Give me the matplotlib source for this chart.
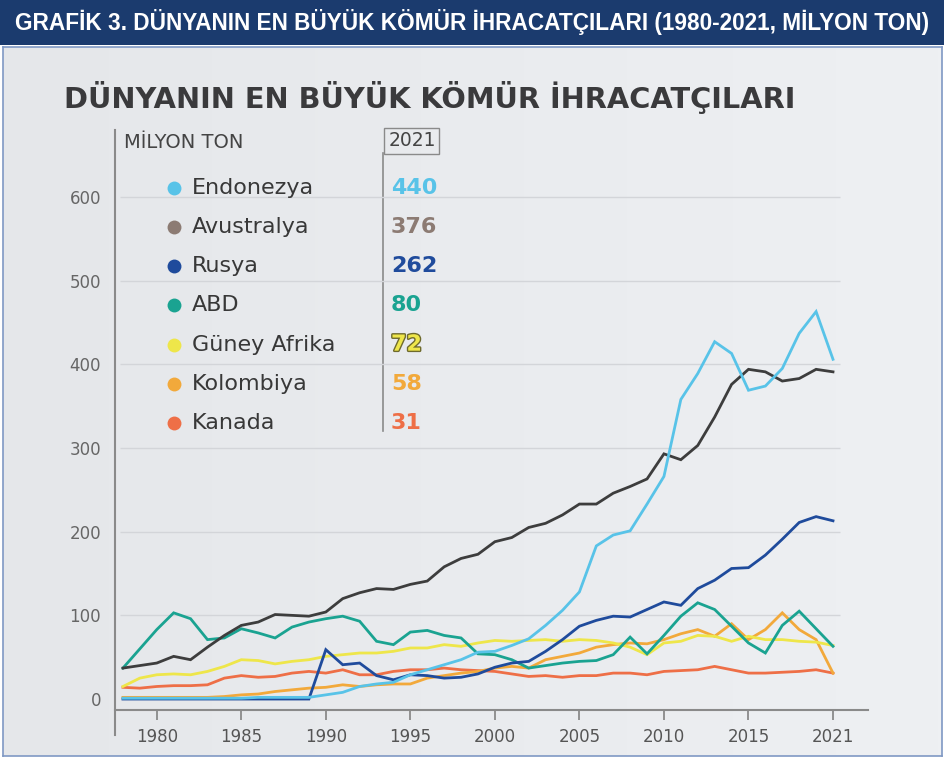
import numpy as np
import matplotlib
matplotlib.use('Agg')
import matplotlib.pyplot as plt
from matplotlib.patches import Rectangle
from matplotlib.lines import Line2D
from matplotlib.colors import LinearSegmentedColormap
import matplotlib.patheffects as pe

# data (milyon ton), positions 1978..2020
years = np.arange(1978, 2021)

endonezya = [1, 1, 1, 1, 1, 1, 1, 1, 2, 2, 2, 2,
             5, 8, 15, 18, 20, 29, 35, 41, 47, 56,
             57, 64, 72, 88, 106, 128, 183, 196, 201, 233,
             266, 358, 389, 427, 413, 369, 374, 395, 437, 463, 406]
avustralya = [37, 40, 43, 51, 47, 62, 76, 88, 92, 101,
              100, 99, 104, 120, 127, 132, 131, 137, 141, 158,
              168, 173, 188, 193, 205, 210, 220, 233, 233, 246,
              254, 263, 293, 286, 303, 337, 376, 394, 391, 380,
              383, 394, 391]
rusya = [0, 0, 0, 0, 0, 0, 0, 0, 0, 0, 0, 0,
         59, 41, 43, 28, 23, 29, 28, 25, 26, 30,
         38, 43, 45, 57, 71, 87, 94, 99, 98, 107,
         116, 112, 132, 142, 156, 157, 172, 191, 211, 218, 213]
abd = [37, 60, 83, 103, 96, 71, 73, 84, 79, 73,
       86, 92, 96, 99, 93, 69, 65, 80, 82, 76,
       73, 54, 53, 47, 37, 40, 43, 45, 46, 53,
       74, 54, 76, 99, 115, 107, 87, 67, 55, 88,
       105, 84, 63]
guney_afrika = [15, 25, 29, 30, 29, 33, 39, 47, 46, 42,
                45, 47, 51, 53, 55, 55, 57, 61, 61, 65,
                63, 67, 70, 69, 70, 71, 69, 71, 70, 67,
                62, 53, 67, 69, 76, 75, 69, 75, 71, 71,
                69, 68, 64]
kolombiya = [2, 2, 2, 2, 2, 2, 3, 5, 6, 9,
             11, 13, 14, 17, 15, 17, 18, 18, 25, 28,
             31, 33, 37, 39, 37, 47, 51, 55, 62, 65,
             67, 66, 71, 78, 83, 75, 90, 71, 83, 103,
             83, 71, 31]
kanada = [14, 13, 15, 16, 16, 17, 25, 28, 26, 27,
          31, 33, 31, 35, 29, 29, 33, 35, 35, 37,
          35, 34, 33, 30, 27, 28, 26, 28, 28, 31,
          31, 29, 33, 34, 35, 39, 35, 31, 31, 32,
          33, 35, 31]

countries = ['Endonezya', 'Avustralya', 'Rusya', 'ABD', 'Güney Afrika', 'Kolombiya', 'Kanada']
values_2021 = [440, 376, 262, 80, 72, 58, 31]
series = [endonezya, avustralya, rusya, abd, guney_afrika, kolombiya, kanada]

tick_years = [1980, 1985, 1990, 1995, 2000, 2005, 2010, 2015, 2020]
tick_labels = ['1980', '1985', '1990', '1995', '2000', '2005', '2010', '2015', '2021']
y_ticks = [0, 100, 200, 300, 400, 500, 600]

line_colors = ['#58c3e8', '#3d3d3d', '#1f4b9c', '#1aa391', '#eee64a', '#f2a93b', '#ee6f47']
dot_colors = ['#58c3e8', '#8c7b73', '#1f4b9c', '#1aa391', '#eee64a', '#f2a93b', '#ee6f47']

W, H = 945, 757
fig = plt.figure(figsize=(W / 100, H / 100), dpi=100)
fig.patch.set_facecolor('white')


def fx(x):
    return x / W


def fy(y):
    return 1 - y / H


# panel background with a faint left-to-right gradient
bg = fig.add_axes([fx(3), fy(756), fx(939), 709 / H])
bg.set_zorder(-5)
bg.imshow(np.linspace(0, 1, 256).reshape(1, -1), aspect='auto', extent=(0, 1, 0, 1),
          cmap=LinearSegmentedColormap.from_list('panel', ['#e5e7ea', '#eef0f3']))
bg.set_xticks([])
bg.set_yticks([])
for s in bg.spines.values():
    s.set_color('#7f98c4')
    s.set_linewidth(1.2)

fig.patches.append(Rectangle((0, fy(45)), 1, 45 / H, transform=fig.transFigure,
                             facecolor='#1b3b6e', edgecolor='none', zorder=-4))
fig.text(0.5, fy(22), 'GRAFİK 3. DÜNYANIN EN BÜYÜK KÖMÜR İHRACATÇILARI (1980-2021, MİLYON TON)',
         color='white', fontsize=16.3, fontweight='bold', ha='center', va='center',
         family=['Liberation Sans Narrow', 'Liberation Sans', 'DejaVu Sans'])

fig.text(fx(64), fy(97), 'DÜNYANIN EN BÜYÜK KÖMÜR İHRACATÇILARI', color='#3a3a3c',
         fontsize=20.8, fontweight='bold', ha='left', va='center')

ax = fig.add_axes([fx(115), fy(710), fx(868) - fx(115), fy(130) - fy(710)])
ax.set_zorder(2)
ax.set_facecolor('none')
ax.set_xlim(1977.53, 2022.07)
ax.set_ylim(-13.1, 680)

ax.hlines(y_ticks[1:], years[0] - 0.2, years[-1] + 0.4, color='#d3d5d9', lw=1, zorder=0)

for vals, col in reversed(list(zip(series, line_colors))):
    ax.plot(years, vals, color=col, lw=2, solid_joinstyle='miter', zorder=3)

for s in ['top', 'right', 'left']:
    ax.spines[s].set_visible(False)
ax.spines['bottom'].set_color('#8a8a8a')
ax.spines['bottom'].set_linewidth(1.5)

ax.set_xticks(tick_years, tick_labels)
ax.tick_params(axis='x', direction='out', length=7, width=1.3, color='#8a8a8a',
               labelsize=12, labelcolor='#555555', pad=6)
ax.set_yticks(y_ticks)
ax.tick_params(axis='y', length=0, pad=10, labelsize=12, labelcolor='#666666')

# left axis line runs past the bottom spine
fig.add_artist(Line2D([fx(115), fx(115)], [fy(130), fy(735)], color='#8a8a8a', lw=1.5))

# legend block
fig.text(fx(124), fy(142), 'MİLYON TON', fontsize=14, color='#444444', ha='left', va='center')
fig.text(fx(412), fy(141), '2021', fontsize=13.5, color='#444444', ha='center', va='center',
         bbox=dict(boxstyle='square,pad=0.2', facecolor='none', edgecolor='#8a8a8a', lw=1))
fig.add_artist(Line2D([fx(383), fx(383)], [fy(153), fy(431)], color='#8a8a8a', lw=1.2))

row0, step = 187.5, 39.3
for i, (name, val, dc) in enumerate(zip(countries, values_2021, dot_colors)):
    yy = fy(row0 + i * step)
    fig.add_artist(Line2D([fx(174)], [yy], marker='o', markersize=10, color=dc,
                          markeredgecolor='none'))
    fig.text(fx(192), yy, name, fontsize=16, color='#383838', ha='left', va='center')
    t = fig.text(fx(391), yy, str(val), fontsize=16, fontweight='bold', color=dc,
                 ha='left', va='center')
    if name == 'Güney Afrika':
        t.set_path_effects([pe.withStroke(linewidth=2, foreground='#6e6a2c')])

fig.savefig('out.png', dpi=100)
